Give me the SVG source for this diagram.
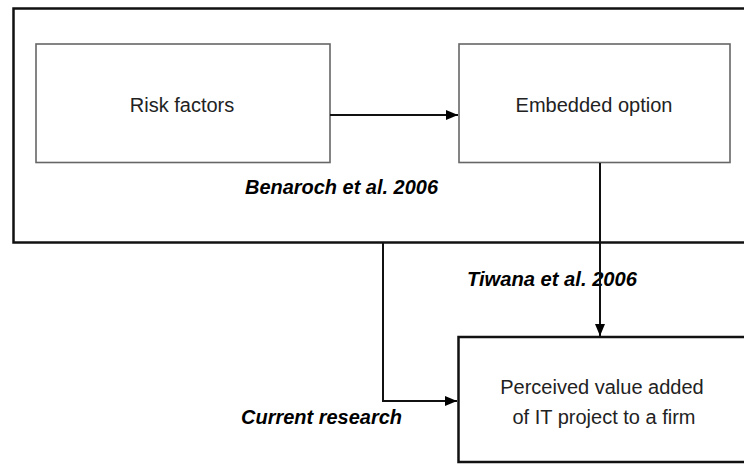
<svg xmlns="http://www.w3.org/2000/svg" width="744" height="464" viewBox="0 0 744 464">
  <defs>
    <marker id="arrow" viewBox="0 0 12 10" refX="12" refY="5" markerWidth="12" markerHeight="10" markerUnits="userSpaceOnUse" orient="auto">
      <path d="M0,0 L12,5 L0,10 Z" fill="#000"/>
    </marker>
  </defs>
  <style>
    .outer { fill: none; stroke: #111; stroke-width: 2.5; }
    .box { fill: #fff; stroke: #666; stroke-width: 1.6; }
    .target { fill: #fff; stroke: #111; stroke-width: 2.5; }
    .lbl { font-family: "Liberation Sans", Arial, sans-serif; font-size: 20px; fill: #222; }
    .cite { font-family: "Liberation Sans", Arial, sans-serif; font-size: 21px; font-weight: bold; font-style: italic; fill: #000; }
    .conn { fill: none; stroke: #111; stroke-width: 2; }
  </style>
  <rect width="744" height="464" fill="#fff"/>

  <g id="benaroch-frame">
    <rect class="outer" x="13.5" y="8.5" width="760" height="234"/>
    <text class="cite" x="245" y="194" textLength="193" lengthAdjust="spacingAndGlyphs">Benaroch et al. 2006</text>
  </g>

  <g id="risk-factors">
    <rect class="box" x="36" y="44" width="294" height="118.5"/>
    <text class="lbl" x="182" y="112" text-anchor="middle">Risk factors</text>
  </g>

  <g id="embedded-option">
    <rect class="box" x="459" y="44" width="271" height="118.5"/>
    <text class="lbl" x="594" y="112" text-anchor="middle">Embedded option</text>
  </g>

  <g id="perceived-value">
    <rect class="target" x="458.5" y="337" width="300" height="125"/>
    <text class="lbl" x="602" y="394" text-anchor="middle">Perceived value added</text>
    <text class="lbl" x="604" y="424" text-anchor="middle">of IT project to a firm</text>
  </g>

  <g id="labels">
    <text class="cite" x="467" y="286" textLength="170" lengthAdjust="spacingAndGlyphs">Tiwana et al. 2006</text>
    <text class="cite" x="241" y="424" textLength="161" lengthAdjust="spacingAndGlyphs">Current research</text>
  </g>

  <g id="connectors">
    <line class="conn" x1="330" y1="115" x2="458" y2="115" marker-end="url(#arrow)"/>
    <line class="conn" x1="600" y1="163" x2="600" y2="336" marker-end="url(#arrow)"/>
    <polyline class="conn" points="383,243 383,401 457,401" marker-end="url(#arrow)"/>
  </g>
</svg>
